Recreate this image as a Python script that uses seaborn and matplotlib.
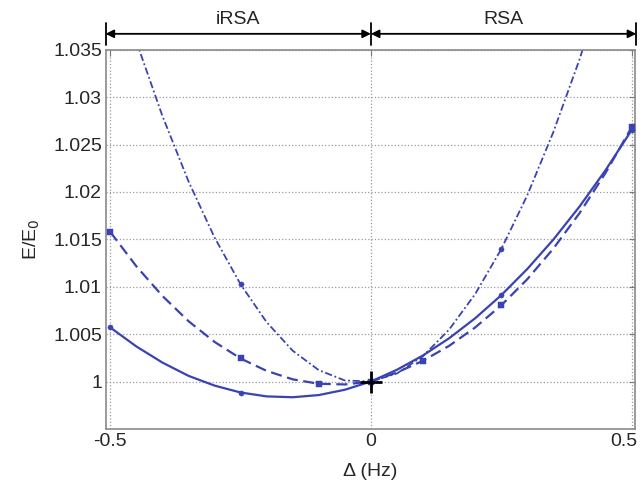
import seaborn as sns
import matplotlib.pyplot as plt
import matplotlib.transforms as mtransforms
import pandas as pd

# detuning grid (Hz) and values
delta = [-0.5, -0.45, -0.4, -0.35, -0.3, -0.25, -0.2, -0.15, -0.1, -0.05, 0.0,
         0.05, 0.1, 0.15, 0.2, 0.25, 0.3, 0.35, 0.4, 0.45, 0.5]

e_solid = [1.0057, 1.0037, 1.0020, 1.0006, 0.99957, 0.99884, 0.99843, 0.99834,
           0.99857, 0.99913, 1.0, 1.00124, 1.00275, 1.00456, 1.00667, 1.0091,
           1.01187, 1.01497, 1.01844, 1.02228, 1.0265]
e_dashed = [1.01578, 1.01216, 1.00903, 1.00637, 1.00418, 1.00243, 1.00112, 1.00023,
            0.99976, 0.99969, 1.0, 1.00095, 1.00219, 1.00376, 1.0057, 1.00803,
            1.01079, 1.01402, 1.01774, 1.02199, 1.0268]
e_dashdot = [1.0447, 1.03587, 1.02802, 1.02113, 1.0152, 1.01025, 1.00626, 1.00325,
             1.0012, 1.00011, 1.0, 1.00085, 1.00268, 1.00547, 1.00922, 1.01395,
             1.01964, 1.02631, 1.03394, 1.04253, 1.0521]

# marker positions
solid_mx = [-0.5, -0.25, 0.0, 0.25, 0.5]
solid_my = [1.0057, 0.99884, 1.0, 1.0091, 1.0265]
dashed_mx = [-0.5, -0.25, -0.1, 0.0, 0.1, 0.25, 0.5]
dashed_my = [1.01578, 1.00243, 0.99976, 1.0, 1.00219, 1.00803, 1.0268]
dashdot_mx = [-0.25, 0.25]
dashdot_my = [1.01025, 1.01395]

yticks = [1.0, 1.005, 1.01, 1.015, 1.02, 1.025, 1.03, 1.035]
ytick_labels = ["1", "1.005", "1.01", "1.015", "1.02", "1.025", "1.03", "1.035"]
xticks = [-0.5, 0.0, 0.5]
xtick_labels = ["-0.5", "0", "0.5"]

sns.set_style("white")
plt.rcParams["font.family"] = ["Liberation Sans", "DejaVu Sans"]
plt.rcParams["font.size"] = 14

BLUE = "#3a43b2"

df = pd.DataFrame({"delta": delta, "solid": e_solid,
                   "dashed": e_dashed, "dashdot": e_dashdot})

fig = plt.figure(figsize=(6.43, 4.83), dpi=100)
ax = fig.add_axes([0.165, 0.112, 0.822, 0.785])

sns.lineplot(data=df, x="delta", y="solid", color=BLUE, lw=1.6, ax=ax)
sns.lineplot(data=df, x="delta", y="dashed", color=BLUE, lw=1.6,
             linestyle=(0, (5, 2.5)), ax=ax)
sns.lineplot(data=df, x="delta", y="dashdot", color=BLUE, lw=1.3,
             linestyle=(0, (4, 1.5, 1, 1.5)), ax=ax)

sns.scatterplot(x=solid_mx, y=solid_my, color=BLUE, marker="o", s=14,
                edgecolor=BLUE, ax=ax, zorder=4)
sns.scatterplot(x=dashed_mx, y=dashed_my, color=BLUE, marker="s", s=16,
                edgecolor=BLUE, ax=ax, zorder=4)
sns.scatterplot(x=dashdot_mx, y=dashdot_my, color=BLUE, marker="o", s=14,
                edgecolor=BLUE, ax=ax, zorder=4)
ax.plot([0], [1], marker="+", color="black", ms=16, mew=2, zorder=5)

ax.set_xlim(-0.508, 0.506)
ax.set_ylim(0.995, 1.035)
ax.set_xticks(xticks)
ax.set_xticklabels(xtick_labels)
ax.set_yticks(yticks)
ax.set_yticklabels(ytick_labels)
ax.set_xlabel("Δ (Hz)", labelpad=9)
ax.set_ylabel("E/E$_0$", labelpad=8)

ax.grid(True, linestyle=":", color="#9a9a9a", lw=0.9)
ax.tick_params(direction="in", length=4, color="#777777",
               top=True, right=True, labelsize=14, pad=3)
for sp in ax.spines.values():
    sp.set_color("#8a8a8a")
    sp.set_linewidth(1.2)

# last x label sits against the figure edge, nudge it inward
last = ax.get_xticklabels()[-1]
last.set_transform(last.get_transform() +
                   mtransforms.ScaledTranslation(-8 / 100, 0, fig.dpi_scale_trans))

# region arrows above the axes
tr = ax.get_xaxis_transform()
for x0, x1, txt in [(-0.509, 0.0, "iRSA"), (0.0, 0.509, "RSA")]:
    ax.annotate("", xy=(x0, 1.042), xytext=(x1, 1.042), xycoords=tr,
                textcoords=tr, annotation_clip=False,
                arrowprops=dict(arrowstyle="<|-|>", color="black", lw=1.3,
                                mutation_scale=12, shrinkA=0, shrinkB=0))
    ax.text((x0 + x1) / 2, 1.058, txt, transform=tr, ha="center",
            va="bottom", fontsize=14)
for xb in [-0.509, 0.0, 0.509]:
    ax.plot([xb, xb], [1.013, 1.071], transform=tr, color="black",
            lw=1.3, clip_on=False)

fig.savefig("out.png", dpi=100)
